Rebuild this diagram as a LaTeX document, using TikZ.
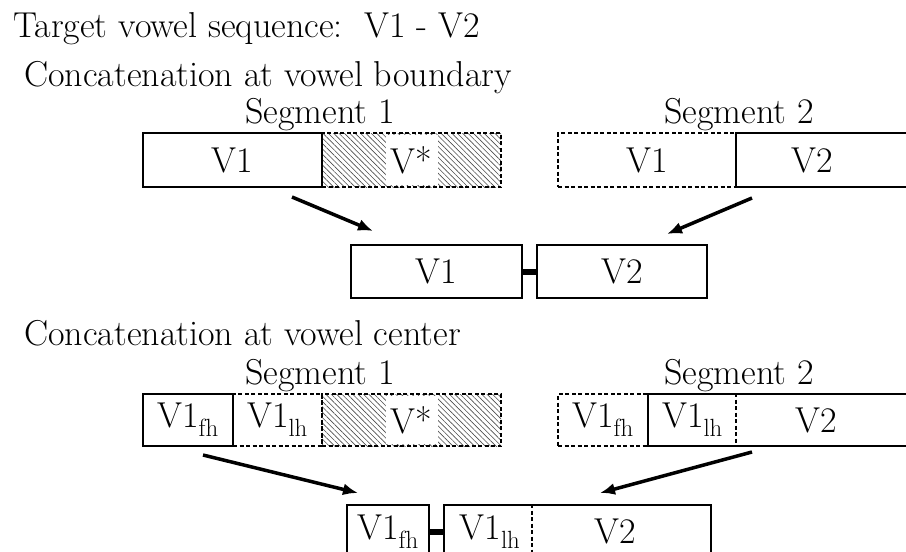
\documentclass[tikz,border=0pt]{standalone}
\usetikzlibrary{arrows.meta,patterns.meta}

\begin{document}
\begin{tikzpicture}[x=1pt,y=-1pt]
\tikzstyle{textstyle}=[inner sep=0pt, font=\fontsize{36}{42}\selectfont]
\tikzstyle{boxstyle}=[textstyle, draw, line width=1.8pt, minimum height=54pt]
\tikzstyle{dashstyle}=[textstyle, draw, line width=1.5pt, dash pattern=on 4pt off 2.5pt, minimum height=54pt]
\tikzstyle{dashline}=[line width=1.5pt, dash pattern=on 4pt off 2.5pt]
\tikzstyle{hatchstyle}=[dashstyle, pattern={Lines[angle=-45,distance=3.8pt,line width=0.6pt]}, pattern color=black!70]
\tikzstyle{starstyle}=[textstyle, fill=white, minimum width=52pt, minimum height=50pt]
\tikzstyle{arrowstyle}=[line width=3.5pt, -{Latex[length=15pt,width=12pt]}]
\tikzstyle{linkstyle}=[line width=6pt]
    \clip (0,0) rectangle (906,552);
    % headings
    \node[textstyle, anchor=base west] (title) at (13,37) {Target vowel sequence:\ \ V1 - V2};
    \node[textstyle, anchor=base west] (boundary) at (24,86) {Concatenation at vowel boundary};
    \node[textstyle, anchor=base] (seg1a) at (320,123) {Segment 1};
    \node[textstyle, anchor=base] (seg2a) at (739,123) {Segment 2};
    % boundary: segment 1
    \node[hatchstyle, minimum width=179pt] (s1vx) at (411.5,160) {};
    \node[starstyle] (s1star) at (s1vx) {V*};
    \node[boxstyle, minimum width=179pt] (s1v1) at (232.5,160) {V1};
    % boundary: segment 2
    \node[dashstyle, minimum width=178pt] (s2v1) at (647,160) {V1};
    \node[boxstyle, minimum width=190pt] (s2v2) at (831,160) {};
    \node[textstyle] (s2v2t) at (812,160) {V2};
    % boundary: result
    \node[boxstyle, minimum width=171pt, minimum height=53pt] (m1) at (436.5,271.5) {V1};
    \node[boxstyle, minimum width=170pt, minimum height=53pt] (m2) at (622,271.5) {V2};
    \draw[linkstyle] (m1) -- (m2);
    \coordinate (a1s) at (292,197);
    \coordinate (a1e) at (373,231);
    \coordinate (a2s) at (752,198);
    \coordinate (a2e) at (667,234);
    \draw[arrowstyle] (a1s) -- (a1e);
    \draw[arrowstyle] (a2s) -- (a2e);
    % center
    \node[textstyle, anchor=base west] (center) at (24,345) {Concatenation at vowel center};
    \node[textstyle, anchor=base] (seg1b) at (320,384) {Segment 1};
    \node[textstyle, anchor=base] (seg2b) at (739,384) {Segment 2};
    % center: segment 1
    \node[dashstyle, minimum width=89pt, minimum height=52pt] (b1lh) at (277.5,420) {V1$_{\mathrm{lh}}$};
    \node[hatchstyle, minimum width=179pt, minimum height=52pt] (b1vx) at (411.5,420) {};
    \node[starstyle, minimum height=48pt] (b1star) at (b1vx) {V*};
    \node[boxstyle, minimum width=90pt, minimum height=52pt] (b1fh) at (188,420) {V1$_{\mathrm{fh}}$};
    % center: segment 2
    \node[dashstyle, minimum width=90pt, minimum height=52pt] (b2fh) at (603,420) {V1$_{\mathrm{fh}}$};
    \node[boxstyle, minimum width=272pt, minimum height=52pt] (b2rest) at (784,420) {};
    \draw[dashline] ([xshift=89pt]b2rest.north west) -- ([xshift=89pt]b2rest.south west);
    \node[textstyle] (b2lh) at (692.5,420) {V1$_{\mathrm{lh}}$};
    \node[textstyle] (b2v2) at (816,420) {V2};
    % center: result
    \node[boxstyle, minimum width=82pt, minimum height=53pt] (c1fh) at (388,531.5) {V1$_{\mathrm{fh}}$};
    \node[boxstyle, minimum width=267pt, minimum height=53pt] (cbig) at (577.5,531.5) {};
    \draw[dashline] ([xshift=89pt]cbig.north west) -- ([xshift=89pt]cbig.south west);
    \node[textstyle] (clh) at (490,531.5) {V1$_{\mathrm{lh}}$};
    \node[textstyle] (cv2) at (615,531.5) {V2};
    \draw[linkstyle] (c1fh) -- (cbig);
    \coordinate (a3s) at (203,455);
    \coordinate (a3e) at (358,493);
    \coordinate (a4s) at (752,452);
    \coordinate (a4e) at (600,493);
    \draw[arrowstyle] (a3s) -- (a3e);
    \draw[arrowstyle] (a4s) -- (a4e);
\end{tikzpicture}
\end{document}
